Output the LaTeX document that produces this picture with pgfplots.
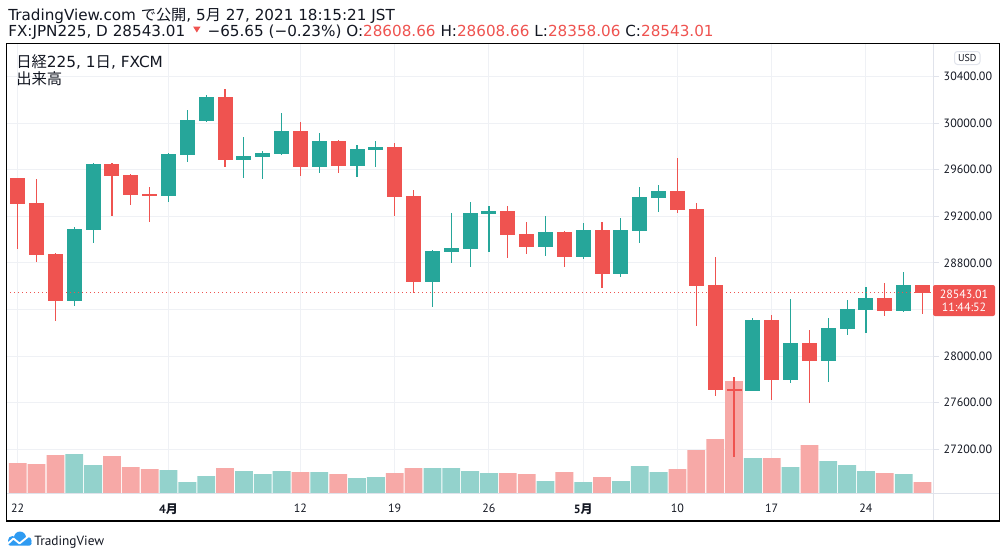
\documentclass[border=0pt]{standalone}
\usepackage{pgfplots}
\pgfplotsset{compat=1.18}
\usepackage{pgfplotstable}
\usepackage{fontspec}
\setmainfont{DejaVu Sans}
\newfontfamily\cjk{Noto Sans CJK JP}
\newfontfamily\pts{PT Sans}
\usetikzlibrary{calc}
\definecolor{upc}{HTML}{26A69A}
\definecolor{downc}{HTML}{EF5350}
\definecolor{upv}{HTML}{93D2CC}
\definecolor{downv}{HTML}{F7A9A7}
\definecolor{textc}{HTML}{131722}
\definecolor{gridc}{HTML}{EFF1F5}
\definecolor{sepc}{HTML}{E0E3EB}
\definecolor{logoc}{HTML}{2E9BF2}
\newcommand\fs[1]{\fontsize{#1}{#1}\selectfont}

% i = trading day index (0 = Mar 22, 2021), O H L C, V = relative volume
\pgfplotstableread{
i O H L C V
3 28475 29108 28432 29091 39
4 29085 29657 28973 29649 28
8 29376 29740 29325 29734 23
9 29729 30112 29668 30026 11
10 30020 30241 30009 30224 17
12 29686 29881 29531 29717 22
13 29711 29760 29522 29743 19
14 29737 30087 29730 29932 22
16 29626 29915 29574 29846 21
18 29634 29812 29540 29777 15
19 29771 29846 29626 29795 16
22 28638 28910 28423 28902 25
23 28893 29228 28801 28927 25
24 28919 29322 28767 29228 22
25 29222 29288 28896 29245 20
28 28939 29202 28861 29065 12
30 28853 29142 28836 29082 11
32 28707 29185 28681 29082 12
33 29076 29451 28973 29365 27
34 29359 29468 29239 29417 21
39 27702 28326 27700 28309 35
41 27796 28489 27771 28112 26
43 27960 28326 27779 28240 32
44 28234 28481 28183 28404 28
45 28398 28592 28200 28498 22
47 28389 28721 28380 28610 19
}\upt

\pgfplotstableread{
i O H L C V
0 29526 29530 28919 29308 30
1 29314 29520 28810 28870 29
2 28876 28885 28303 28475 38
5 29649 29655 29205 29548 37
6 29554 29560 29299 29385 26
7 29391 29451 29153 29376 24
11 30224 30293 29626 29686 25
15 29932 30009 29548 29626 21
17 29846 29855 29574 29634 19
20 29795 29829 29205 29368 20
21 29374 29425 28538 28638 25
26 29245 29288 28844 29042 20
27 29048 29151 28878 28939 19
29 29065 29070 28767 28853 21
31 29082 29151 28586 28707 16
35 29417 29703 29231 29254 24
36 29262 29316 28260 28604 43
37 28610 28850 27659 27711 54
38 27717 27820 27135 27705 112
40 28309 28352 27625 27796 35
42 28112 28223 27596 27960 48
46 28498 28627 28346 28389 20
48 28608.66 28608.66 28358.06 28543.01 11
}\downt

\begin{document}
\begin{tikzpicture}
\begin{scope}[x=0.75pt,y=-0.75pt]
\fill[white] (0,0) rectangle (1006,558);
\path[use as bounding box] (0,0) rectangle (1006,558);
\end{scope}

\begin{axis}[
  at={(5.25pt,-369.75pt)}, anchor=south west,
  width=694.5pt, height=337.5pt, scale only axis,
  xmin=-0.568, xmax=48.557, ymin=26823.6, ymax=30687.6,
  scaled y ticks=false, scaled x ticks=false,
  axis line style={draw=none},
  xtick={0,8,15,20,25,30,35,40,45},
  xticklabels={22,{\bfseries 4{\cjk 月}},12,19,26,{\bfseries 5{\cjk 月}},10,17,24},
  ytick={27200,27600,28000,28400,28800,29200,29600,30000,30400},
  yticklabels={27200.00,27600.00,28000.00,{},28800.00,29200.00,29600.00,30000.00,30400.00},
  ytick pos=right, yticklabel pos=right, xtick pos=bottom,
  grid=major, major grid style={draw=gridc, line width=0.75pt},
  tick align=outside, major tick length=4.5pt,
  xtick style={draw=none}, ytick style={draw=sepc, line width=0.75pt},
  tick label style={font=\pts\fs{9}, text=textc},
  yticklabel style={anchor=west},
]
% volume
\addplot[ybar, bar width=13.35pt, bar shift=0pt, fill=upv, draw=none, forget plot]
  table[x=i, y expr={26823.6+\thisrow{V}*8.587}] {\upt};
\addplot[ybar, bar width=13.35pt, bar shift=0pt, fill=downv, draw=none, forget plot]
  table[x=i, y expr={26823.6+\thisrow{V}*8.587}] {\downt};
% wicks
\addplot[draw=none, forget plot, error bars/.cd, y dir=both, y explicit, error mark=none,
  error bar style={draw=upc, line width=0.85pt, solid}]
  table[x=i, y expr={(\thisrow{H}+\thisrow{L})/2}, y error expr={(\thisrow{H}-\thisrow{L})/2}] {\upt};
\addplot[draw=none, forget plot, error bars/.cd, y dir=both, y explicit, error mark=none,
  error bar style={draw=downc, line width=0.85pt, solid}]
  table[x=i, y expr={(\thisrow{H}+\thisrow{L})/2}, y error expr={(\thisrow{H}-\thisrow{L})/2}] {\downt};
% bodies
\addplot[draw=none, forget plot, error bars/.cd, y dir=both, y explicit, error mark=none,
  error bar style={draw=upc, line width=11.25pt, solid}]
  table[x=i, y expr={(\thisrow{O}+\thisrow{C})/2}, y error expr={max(abs(\thisrow{C}-\thisrow{O})/2,9)}] {\upt};
\addplot[draw=none, forget plot, error bars/.cd, y dir=both, y explicit, error mark=none,
  error bar style={draw=downc, line width=11.25pt, solid}]
  table[x=i, y expr={(\thisrow{O}+\thisrow{C})/2}, y error expr={max(abs(\thisrow{C}-\thisrow{O})/2,9)}] {\downt};
% last price line
\addplot[downc, line width=0.75pt, dash pattern=on 0.75pt off 2.25pt, forget plot]
  coordinates {(-0.6,28543.01) (48.6,28543.01)};
\end{axis}

\begin{scope}[x=0.75pt,y=-0.75pt]
% frame and separators
\draw[sepc, line width=0.75pt] (7,493) -- (999,493);
\draw[sepc, line width=0.75pt] (933,43.5) -- (933,521);
\draw[black, line width=0.9pt] (6.5,43.5) rectangle (999.5,521);
% header
\node[anchor=base west, inner sep=0, text=textc, font=\fs{11.4}] at (8,20)
  {TradingView.com {\cjk で公開}, 5{\cjk 月} 27, 2021 18:15:21 JST};
\node[anchor=base west, inner sep=0, text=textc, font=\fs{11.4}] (a) at (8,36)
  {FX:JPN225, D 28543.01};
\fill[downc] ($(a.base east)+(7.5,-9.5)$) -- ++(7.5,0) -- ++(-3.75,6) -- cycle;
\node[anchor=base west, inner sep=0, text=textc, font=\fs{11.4}] at ($(a.base east)+(21.7,0)$)
  {−65.65 (−0.23\%) O:\textcolor{downc}{28608.66} H:\textcolor{downc}{28608.66} L:\textcolor{downc}{28358.06} C:\textcolor{downc}{28543.01}};
% pane title
\node[anchor=base west, inner sep=0, text=textc, font=\fs{11.5}] at (16,67.5)
  {{\cjk 日経}225, 1{\cjk 日}, FXCM};
\node[anchor=base west, inner sep=0, text=textc, font=\fs{11.5}] at (16,84.5)
  {{\cjk 出来高}};
% USD box
\draw[sepc, line width=0.75pt, rounded corners=2.25pt, fill=white] (954.5,51.5) rectangle (980,64.5);
\node[font=\pts\fs{7.5}, text=textc] at (967.25,58) {USD};
% price tag
\fill[downc, rounded corners=1.5pt] (933,285) rectangle (995,316);
\node[font=\pts\fs{9}, text=white] at (964,294.5) {28543.01};
\node[font=\pts\fs{9}, text=white] at (964,307.5) {11:44:52};
% logo
\fill[logoc] (12.5,540.5) circle[radius=4.5];
\fill[logoc] (20,537.5) circle[radius=6];
\fill[logoc] (27.5,541) circle[radius=4.2];
\fill[logoc, rounded corners=1.5pt] (8,541) rectangle (31.5,545.5);
\draw[white, line width=1.4pt, line join=round] (7,544.5) -- (13.5,538.5) -- (19.5,543.5) -- (30,535);
\node[anchor=base west, inner sep=0, font=\pts\fs{10}, text=textc] at (34,545) {TradingView};
\end{scope}
\end{tikzpicture}
\end{document}
